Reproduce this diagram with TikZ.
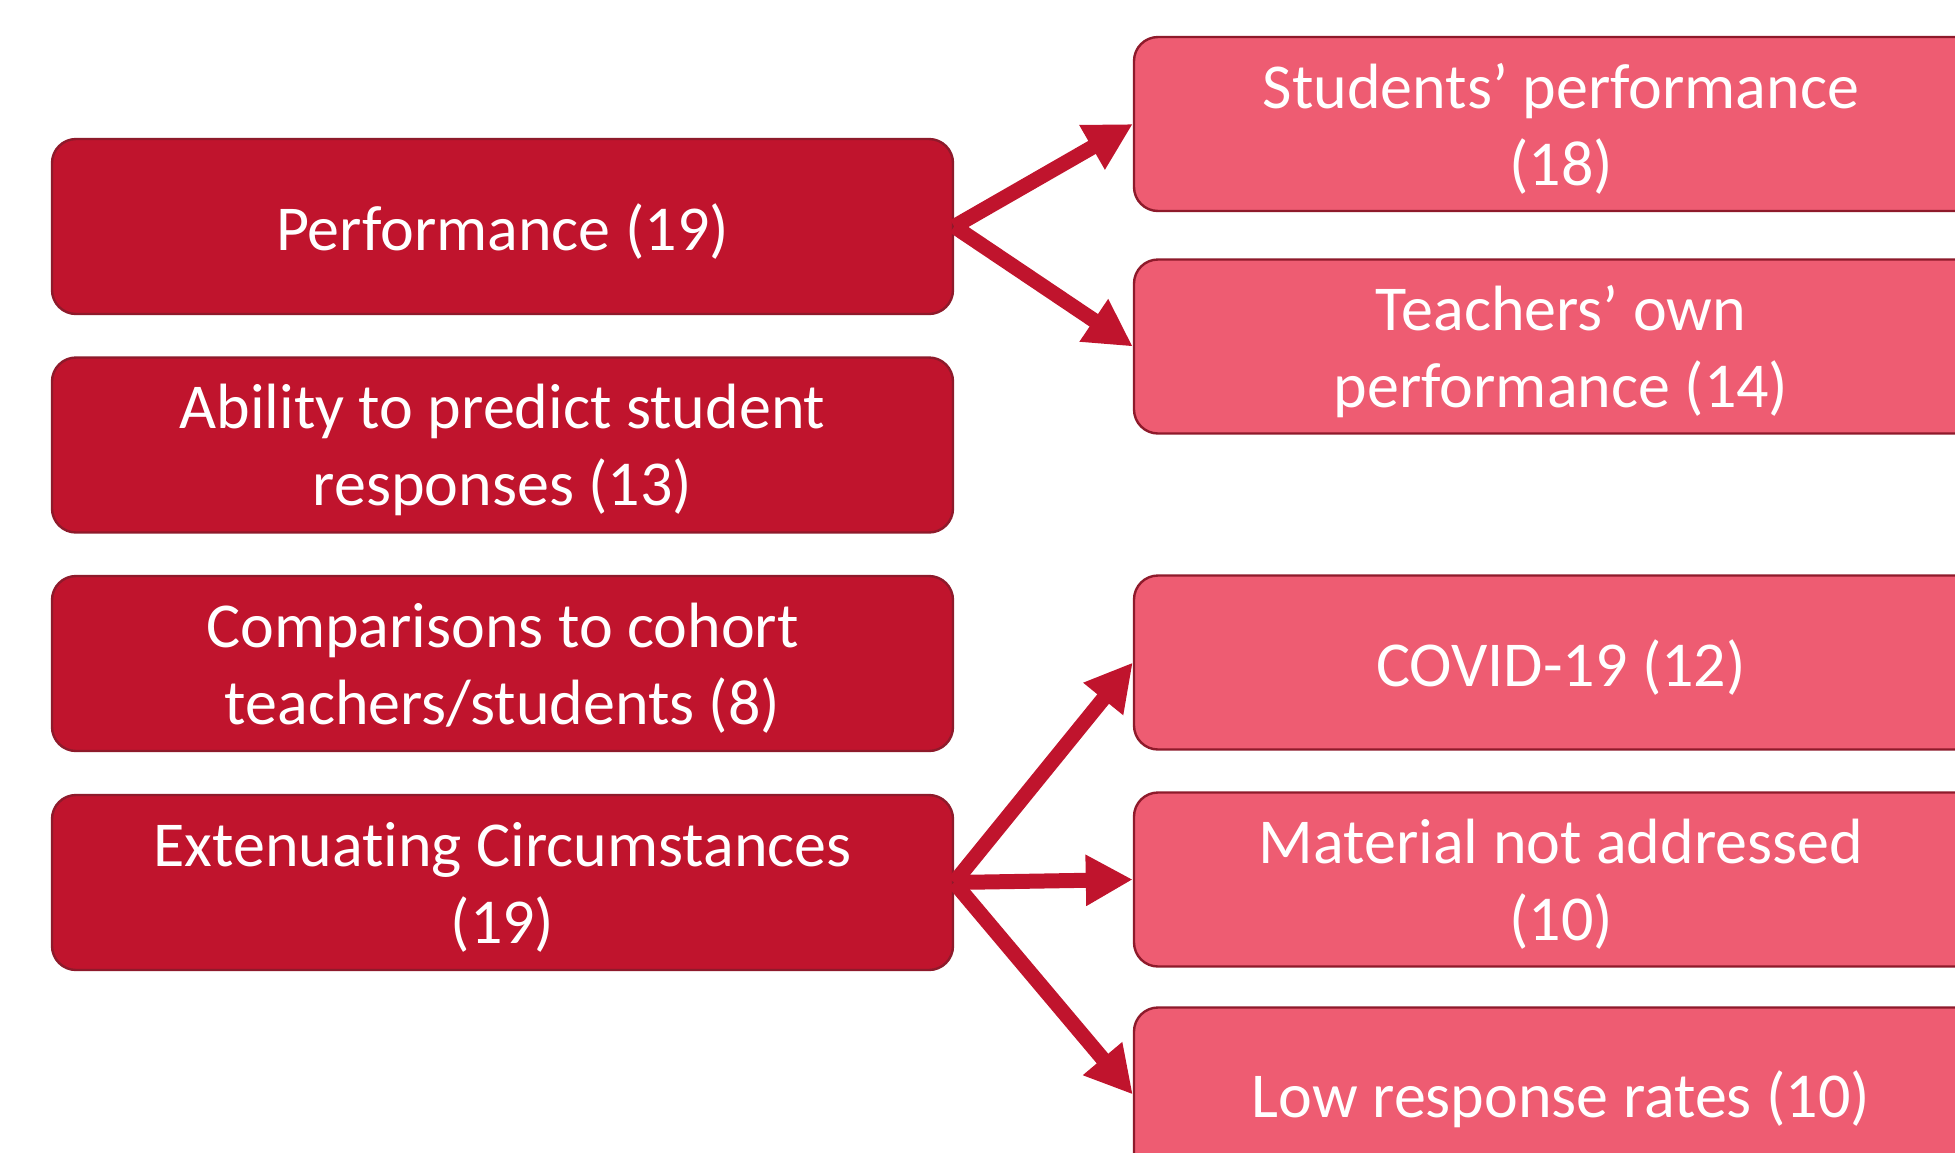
\documentclass[tikz,border=0pt]{standalone}
\usepackage{fontspec}
\setmainfont[Ligatures={NoCommon,NoContextual,NoRare}]{Carlito}
\usetikzlibrary{arrows.meta}
\definecolor{catfill}{HTML}{C0142D}
\definecolor{subfill}{HTML}{EE5C72}
\definecolor{boxedge}{HTML}{8E1A2B}
\definecolor{linkred}{HTML}{C0142D}
% set a line a little lower without changing its size
\newcommand\lowline[1]{\raisebox{-2.5pt}[\height][\depth]{#1}}
\begin{document}
\begin{tikzpicture}[x=0.5pt,y=-0.5pt,
  box/.style={draw=boxedge, line width=1.2pt, rounded corners=12pt, text=white,
    align=center, font=\fontsize{32}{38.5}\selectfont, inner sep=0pt},
  catbox/.style={box, fill=catfill, minimum width=450.5pt, minimum height=87.5pt},
  subbox/.style={box, fill=subfill, minimum width=427pt, minimum height=87pt},
  link/.style={draw=linkred, line width=7.5pt, -{Triangle[length=23.5pt,width=24pt]}}]
\useasboundingbox (0,0) rectangle (1955,1152);
\begin{scope}
\clip (0,0) rectangle (1955,1152);
% main categories
\node[catbox] (perf) at (502.5,226.5) {\lowline{Performance (19)}};
\node[catbox] (pred) at (502.5,445) {\lowline{Ability to predict student}\\\lowline{responses (13)}};
\node[catbox] (comp) at (502.5,663.5) {\lowline{Comparisons to cohort}\\\lowline{teachers/students (8)}};
\node[catbox] (ext) at (502.5,882.5) {\lowline{Extenuat\kern0pt ing Circumstances}\\\lowline{(19)}};
% sub-themes
\node[subbox] (stud) at (1561,124) {\lowline{Students’ performance}\\\lowline{(18)}};
\node[subbox] (teach) at (1561,346.5) {\lowline{Teachers’ own}\\\lowline{performance (14)}};
\node[subbox] (covid) at (1561,662.5) {\lowline{COVID-19 (12)}};
\node[subbox] (mat) at (1561,879.5) {\lowline{Material not addressed}\\\lowline{(10)}};
\node[subbox] (low) at (1561,1094.5) {\lowline{Low response rates (10)}};
% links
\draw[link] (perf.east) -- (stud.west);
\draw[link] (perf.east) -- (teach.west);
\draw[link] (ext.east) -- (covid.west);
\draw[link] (ext.east) -- (mat.west);
\draw[link] (ext.east) -- (low.west);
\end{scope}
\end{tikzpicture}
\end{document}
